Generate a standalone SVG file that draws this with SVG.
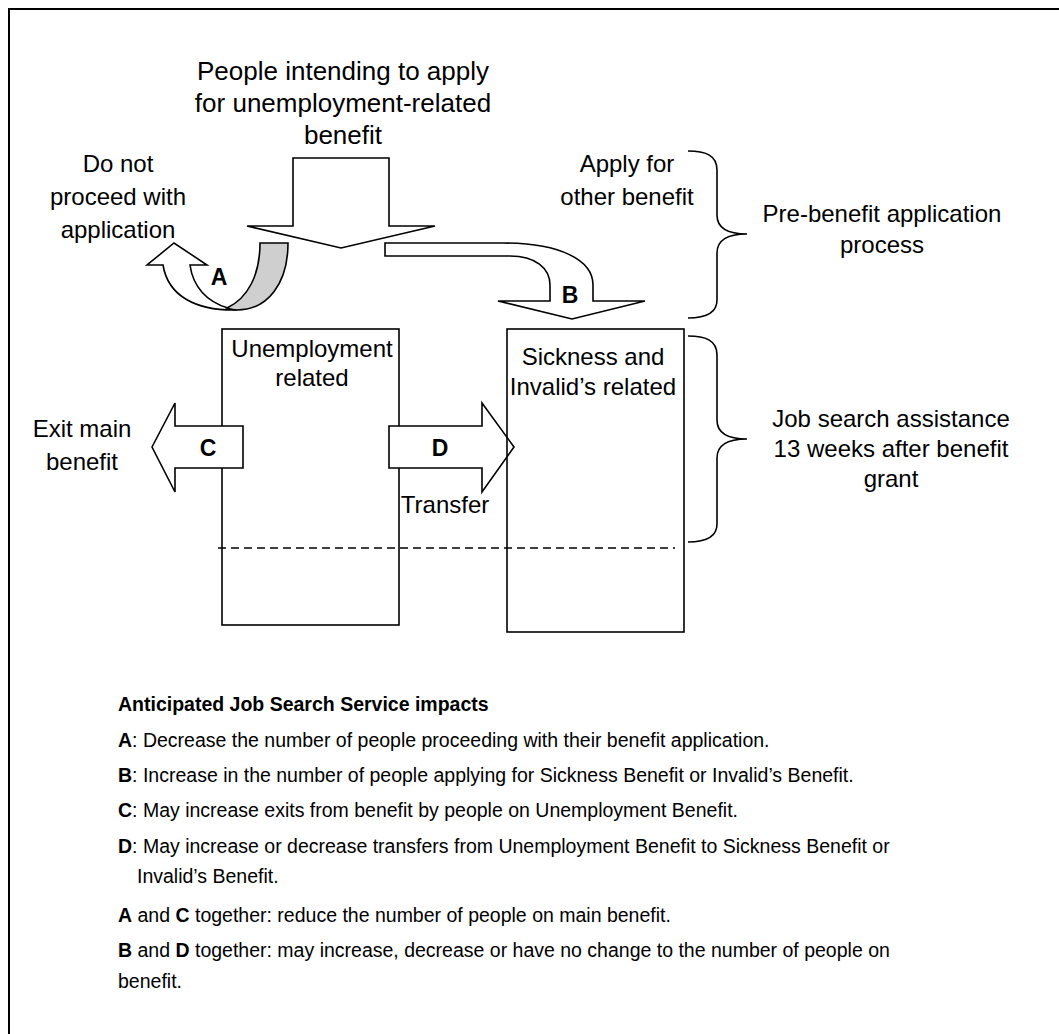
<svg xmlns="http://www.w3.org/2000/svg" width="1059" height="1034" viewBox="0 0 1059 1034">
<style>
text{font-family:"Liberation Sans",Arial,sans-serif;fill:#000}
.t{font-size:24px;text-anchor:middle}
.tt{font-size:26px;text-anchor:middle}
.lb{font-size:23px;font-weight:bold;text-anchor:middle}
.b{font-size:19.5px}
.bb{font-weight:bold}
.s{fill:#fff;stroke:#000;stroke-width:1.6;stroke-linejoin:miter}
.n{fill:none;stroke:#000;stroke-width:1.6}
</style>
<rect x="9" y="9" width="1100" height="1100" fill="#fff" stroke="#000" stroke-width="2"/>

<g id="title">
<text class="tt" x="343" y="80">People intending to apply</text>
<text class="tt" x="343" y="112">for unemployment-related</text>
<text class="tt" x="343" y="144">benefit</text>
</g>

<g id="connectors">
<polygon class="s" points="293,158 389,158 389,226 435,226 341,248 247,226 293,226"/>
<g id="arrowA">
<path class="s" d="M163,265 L147,265 L174,243 L207,265 L190,265 C193,287 207,302 228,308 L237,310 C196,311 168,296 163,265 Z"/>
<path d="M260,243 L288,243 C288,283 268,310 237,310 C233,310 230,309 227,308 C248,298 260,275 260,243 Z" fill="#cfcfcf" stroke="#000" stroke-width="1.6"/>
<text class="lb" x="219" y="285">A</text>
</g>
<g id="arrowB">
<path class="s" d="M385,243 L503,243 C560,243 593,260 593,285 L593,301 L645,301 L572,319 L498,301 L550,301 L550,285 C550,268 535,256 510,256 L385,256 Z"/>
<text class="lb" x="570" y="303">B</text>
</g>
<line x1="218" y1="548" x2="675" y2="548" stroke="#000" stroke-width="1.6" stroke-dasharray="8,5"/>
</g>

<g id="box-unemployment">
<rect class="n" x="222" y="329" width="177" height="296"/>
<text class="t" x="312" y="357">Unemployment</text>
<text class="t" x="312" y="386">related</text>
</g>

<g id="arrowC">
<polygon class="s" points="152,447 175,403 175,426 243,426 243,468 175,468 175,492"/>
<text class="lb" x="208" y="456">C</text>
</g>
<g id="arrowD">
<polygon class="s" points="389,426 482,426 482,403 514,447 482,492 482,468 389,468"/>
<text class="lb" x="440" y="456">D</text>
</g>

<g id="box-sickness">
<rect class="n" x="507" y="329" width="177" height="303"/>
<text class="t" x="593" y="365">Sickness and</text>
<text class="t" x="593" y="395">Invalid’s related</text>
</g>

<g id="labels">
<text class="t" x="118" y="172">Do not</text>
<text class="t" x="118" y="205">proceed with</text>
<text class="t" x="118" y="238">application</text>
<text class="t" x="627" y="172">Apply for</text>
<text class="t" x="627" y="205">other benefit</text>
<text class="t" x="82" y="437">Exit main</text>
<text class="t" x="82" y="470">benefit</text>
<text class="t" x="445" y="513">Transfer</text>
</g>

<g id="brace-pre">
<path class="n" d="M688,151 C705,151 717,155 717,170 L717,215 C717,228 728,234 747,234 C728,234 717,240 717,253 L717,300 C717,313 705,318 688,318"/>
<text class="t" x="882" y="222">Pre-benefit application</text>
<text class="t" x="882" y="253">process</text>
</g>
<g id="brace-job">
<path class="n" d="M688,336 C705,336 717,340 717,355 L717,420 C717,433 728,439 747,439 C728,439 717,445 717,458 L717,524 C717,537 705,542 688,542"/>
<text class="t" x="891" y="427">Job search assistance</text>
<text class="t" x="891" y="457">13 weeks after benefit</text>
<text class="t" x="891" y="487">grant</text>
</g>

<g id="notes">
<text class="b bb" x="118" y="711">Anticipated Job Search Service impacts</text>
<text class="b" x="118" y="747"><tspan class="bb">A</tspan>: Decrease the number of people proceeding with their benefit application.</text>
<text class="b" x="118" y="782"><tspan class="bb">B</tspan>: Increase in the number of people applying for Sickness Benefit or Invalid’s Benefit.</text>
<text class="b" x="118" y="817"><tspan class="bb">C</tspan>: May increase exits from benefit by people on Unemployment Benefit.</text>
<text class="b" x="118" y="853"><tspan class="bb">D</tspan>: May increase or decrease transfers from Unemployment Benefit to Sickness Benefit or</text>
<text class="b" x="137" y="883">Invalid’s Benefit.</text>
<text class="b" x="118" y="922"><tspan class="bb">A</tspan> and <tspan class="bb">C</tspan> together: reduce the number of people on main benefit.</text>
<text class="b" x="118" y="957"><tspan class="bb">B</tspan> and <tspan class="bb">D</tspan> together: may increase, decrease or have no change to the number of people on</text>
<text class="b" x="118" y="988">benefit.</text>
</g>
</svg>
